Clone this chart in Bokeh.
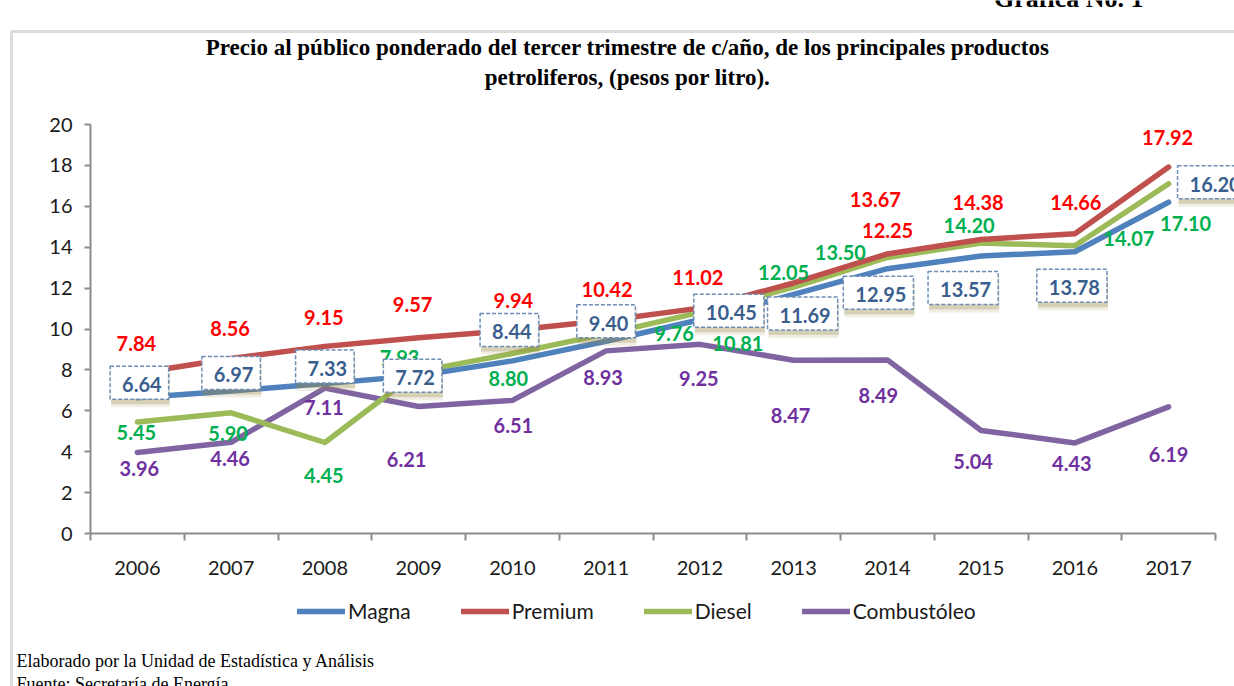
from bokeh.plotting import figure
from bokeh.models import (Range1d, FixedTicker, ColumnDataSource, LabelSet, Label,
                          Legend, LegendItem, BoxAnnotation)
from bokeh.core.properties import value
from bokeh.embed import file_html
from bokeh.resources import INLINE

# ---------------- data ----------------
years = ["2006", "2007", "2008", "2009", "2010", "2011",
         "2012", "2013", "2014", "2015", "2016", "2017"]
magna = [6.64, 6.97, 7.33, 7.72, 8.44, 9.40, 10.45, 11.69, 12.95, 13.57, 13.78, 16.20]
premium = [7.84, 8.56, 9.15, 9.57, 9.94, 10.42, 11.02, 12.25, 13.67, 14.38, 14.66, 17.92]
diesel = [5.45, 5.90, 4.45, 7.93, 8.80, 9.76, 10.81, 12.05, 13.50, 14.20, 14.07, 17.10]
combustoleo = [3.96, 4.46, 7.11, 6.21, 6.51, 8.93, 9.25, 8.47, 8.49, 5.04, 4.43, 6.19]
y_ticks = [0, 2, 4, 6, 8, 10, 12, 14, 16, 18, 20]

# label offsets in screen pixels (dx right, dy up)
magna_dx = [2, 0, 0, -6, -3, 0, 29, 9, -9, -18, -3, 44]
magna_dy = [15, 18, 17, 0, 31, 20, 9, -19, -24, -32, -34, 20]
premium_dx = [-1, -1, -1, -6, 1, 1, -2, 94, -12, -3, 1, -1]
premium_dy = [30, 30, 29, 33, 30, 31, 31, 52, 54, 37, 31, 30]
diesel_dx = [-1, -3, -1, -19, -4, 68, 38, -10, -47, -12, 54, 17]
diesel_dy = [-10, -21, -33, 14, -25, 0, -31, 15, 5, 18, 7, -40]
comb_dx = [2, -1, -1, -12, 1, -3, -1, -3, -9, -8, -3, 0]
comb_dy = [-16, -16, -19, -53, -25, -27, -34, -55, -36, -31, -21, -48]

W, H = 1234, 686
FL, FR, FT, FB = 90, 1215, 124, 533   # plot-area edges on the page
N = len(years)
xpos = [i + 1 for i in range(N)]
YMIN, YMAX = 0, 20
XU = (FR - FL) / N                 # px per category
YU = (FB - FT) / (YMAX - YMIN)     # px per unit
x_range = Range1d(0.5 - FL / XU, N + 0.5 + (W - FR) / XU)
y_range = Range1d(YMIN - (H - FB) / YU, YMAX + FT / YU)

p = figure(width=W, height=H, output_backend="svg", toolbar_location=None,
           x_range=x_range, y_range=y_range,
           min_border=0, min_border_left=0, min_border_right=0,
           min_border_top=0, min_border_bottom=0)
p.outline_line_color = None
p.xgrid.visible = False
p.ygrid.visible = False
p.background_fill_color = "white"
p.border_fill_color = "white"
p.extra_x_ranges = {"px": Range1d(0, W)}
p.extra_y_ranges = {"py": Range1d(H, 0)}

AX = "#8c8c8c"
xa = p.xaxis[0]
xa.fixed_location = YMIN
xa.bounds = (0.5, N + 0.5)
xa.ticker = FixedTicker(ticks=xpos, minor_ticks=[i + 0.5 for i in range(N + 1)])
xa.major_label_overrides = {x: y for x, y in zip(xpos, years)}
xa.major_tick_out = 0
xa.major_tick_in = 0
xa.minor_tick_out = 7
xa.minor_tick_in = 0
xa.minor_tick_line_color = AX
xa.minor_tick_line_width = 2
xa.axis_line_color = AX
xa.axis_line_width = 2
xa.major_label_standoff = 20
xa.major_label_text_font = "Lato"
xa.major_label_text_font_size = "20px"
xa.major_label_text_color = "#1a1a1a"

ya = p.yaxis[0]
ya.fixed_location = 0.5
ya.bounds = (YMIN, YMAX)
ya.ticker = FixedTicker(ticks=y_ticks, minor_ticks=[])
ya.major_tick_out = 6
ya.major_tick_in = 0
ya.major_tick_line_color = AX
ya.major_tick_line_width = 2
ya.minor_tick_line_color = None
ya.axis_line_color = AX
ya.axis_line_width = 2
ya.major_label_standoff = 12
ya.major_label_text_font = "Lato"
ya.major_label_text_font_size = "20px"
ya.major_label_text_color = "#1a1a1a"

# ---------------- lines ----------------
series = [
    ("Magna", magna, "#4F81BD"),
    ("Premium", premium, "#C0504D"),
    ("Diesel", diesel, "#9BBB59"),
    ("Combustóleo", combustoleo, "#8064A2"),
]
renderers = {}
for name, vals, col in [series[3], series[2], series[1], series[0]]:
    renderers[name] = p.line(xpos, vals, line_width=5.5, line_color=col,
                             line_join="round", line_cap="round")
items = [LegendItem(label=name, renderers=[renderers[name]]) for name, _, _ in series]

legend = Legend(items=items, orientation="horizontal", location=(297, H - 623),
                label_text_font="Lato", label_text_font_size="21px",
                label_text_color="#1a1a1a", glyph_width=48, glyph_height=20,
                label_standoff=3, spacing=50, padding=0, margin=0,
                border_line_alpha=0, background_fill_alpha=0)
p.add_layout(legend)

# ---------------- data labels ----------------
def fmt(v):
    return "%.2f" % v

def labelset(vals, dx, dy, color):
    src = ColumnDataSource(dict(x=xpos, y=vals, t=[fmt(v) for v in vals], dx=dx, dy=dy))
    ls = LabelSet(x="x", y="y", text="t", x_offset="dx", y_offset="dy", source=src,
                  text_align="center", text_baseline="middle",
                  text_font=value("Lato"), text_font_style="bold", text_font_size="20px",
                  text_color=color)
    p.add_layout(ls)

labelset(premium, premium_dx, premium_dy, "#FF0000")
labelset(diesel, diesel_dx, diesel_dy, "#00B050")
labelset(combustoleo, comb_dx, comb_dy, "#7030A0")

BOX_PAD = (12, 7, 11, 7)
for xv, v, dx, dy in zip(xpos, magna, magna_dx, magna_dy):
    for k, a in ((8, 0.15), (5, 0.3)):
        sh = Label(x=xv, y=v, text=fmt(v), x_offset=dx + 1, y_offset=dy - k,
                   text_align="center", text_baseline="middle",
                   text_font="Lato", text_font_style="bold", text_font_size="20px",
                   text_color="#9a8c48", text_alpha=0.02, padding=BOX_PAD,
                   background_fill_color="#9a8c48", background_fill_alpha=a)
        p.add_layout(sh)
    lb = Label(x=xv, y=v, text=fmt(v), x_offset=dx, y_offset=dy,
               text_align="center", text_baseline="middle",
               text_font="Lato", text_font_style="bold", text_font_size="20px",
               text_color="#3A5F8E", padding=BOX_PAD, background_fill_color="white",
               border_line_color="#6E8DB4", border_line_dash="4 2", border_line_width=1.5)
    p.add_layout(lb)

# ---------------- page texts & frame line ----------------
def page_text(x, y, txt, size, style="normal", align="left", baseline="middle"):
    p.add_layout(Label(x=x, y=y, x_range_name="px", y_range_name="py", text=txt,
                       text_font="Liberation Serif", text_font_size=size,
                       text_font_style=style, text_align=align,
                       text_baseline=baseline, text_color="black"))

page_text(627, 47, "Precio al público ponderado del tercer trimestre de c/año, de los principales productos",
          "23px", "bold", align="center")
page_text(627, 77, "petroliferos, (pesos por litro).", "23px", "bold", align="center")
page_text(1143, 12, "Gráfica No. 1", "26px", "bold", align="right", baseline="bottom")
page_text(16, 660, "Elaborado por la Unidad de Estadística y Análisis", "18px")
page_text(16, 683, "Fuente: Secretaría de Energía", "18px")

p.add_layout(BoxAnnotation(left=11, right=W + 30, top=31, bottom=H + 30,
                           x_range_name="px", y_range_name="py",
                           fill_alpha=0, line_color=AX, line_width=3))

open("out.html", "w").write(file_html(p, INLINE))
